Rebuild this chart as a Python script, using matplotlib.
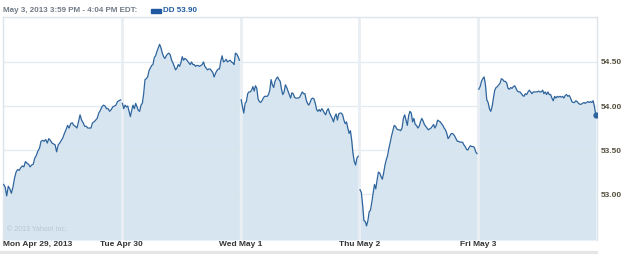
import matplotlib
matplotlib.use("Agg")
import matplotlib.pyplot as plt
import numpy as np

# DD intraday prices, one list per trading day
mon = [53.11, 53.08, 52.98, 53.09, 53.06, 53.01, 53.08, 53.18, 53.25, 53.28, 53.27, 53.30,
       53.32, 53.31, 53.37, 53.35, 53.34, 53.31, 53.33, 53.34, 53.41, 53.44, 53.49, 53.52,
       53.60, 53.61, 53.60, 53.62, 53.58, 53.63, 53.61, 53.58, 53.57, 53.56, 53.48, 53.56,
       53.58, 53.61, 53.64, 53.69, 53.73, 53.78, 53.75, 53.80, 53.81, 53.78, 53.77, 53.75,
       53.82, 53.90, 53.84, 53.81, 53.77, 53.77, 53.75, 53.75, 53.75, 53.81, 53.82, 53.84,
       53.86, 53.92, 53.95, 53.99, 54.01, 54.00, 53.97, 53.97, 53.94, 53.96, 53.99, 54.00,
       54.01, 54.05, 54.06, 54.07]
tue = [54.03, 53.97, 54.01, 53.99, 54.00, 53.94, 53.88, 53.95, 54.01, 53.97, 54.03, 53.99,
       53.95, 53.94, 54.01, 54.03, 54.14, 54.30, 54.31, 54.33, 54.40, 54.43, 54.46, 54.47,
       54.55, 54.57, 54.62, 54.66, 54.70, 54.66, 54.60, 54.56, 54.54, 54.57, 54.59, 54.60,
       54.58, 54.52, 54.49, 54.45, 54.41, 54.43, 54.47, 54.45, 54.49, 54.56, 54.52, 54.54,
       54.53, 54.51, 54.49, 54.47, 54.50, 54.47, 54.47, 54.45, 54.46, 54.46, 54.45, 54.46,
       54.47, 54.50, 54.45, 54.43, 54.41, 54.42, 54.42, 54.40, 54.38, 54.33, 54.37, 54.40,
       54.42, 54.42, 54.51, 54.57, 54.50, 54.51, 54.53, 54.50, 54.51, 54.52, 54.50, 54.49,
       54.47, 54.60, 54.59, 54.56, 54.52]
wed = [54.07, 53.99, 53.92, 54.03, 54.05, 54.14, 54.16, 54.16, 54.18, 54.22, 54.17, 54.23,
       54.20, 54.08, 54.05, 54.04, 54.06, 54.09, 54.11, 54.11, 54.11, 54.13, 54.18, 54.30,
       54.24, 54.21, 54.28, 54.31, 54.33, 54.30, 54.28, 54.19, 54.13, 54.16, 54.24, 54.21,
       54.17, 54.13, 54.09, 54.15, 54.14, 54.10, 54.09, 54.09, 54.09, 54.10, 54.13, 54.16,
       54.14, 54.14, 54.07, 54.03, 54.01, 54.04, 54.08, 54.09, 54.08, 54.03, 53.96, 53.94,
       53.96, 53.94, 53.97, 53.95, 53.92, 53.90, 53.95, 53.97, 53.92, 53.89, 53.86, 53.82,
       53.88, 53.91, 53.84, 53.91, 53.92, 53.92, 53.90, 53.84, 53.80, 53.82, 53.75, 53.69,
       53.72, 53.61, 53.46, 53.37, 53.33, 53.41, 53.43]
thu = [53.05, 53.02, 52.88, 52.70, 52.69, 52.64, 52.70, 52.80, 52.82, 52.91, 53.01, 53.11,
       53.06, 53.16, 53.25, 53.24, 53.20, 53.17, 53.24, 53.33, 53.39, 53.44, 53.52, 53.59,
       53.66, 53.72, 53.78, 53.77, 53.74, 53.73, 53.73, 53.72, 53.75, 53.86, 53.90, 53.84,
       53.78, 53.89, 53.94, 53.92, 53.82, 53.86, 53.79, 53.78, 53.75, 53.77, 53.82, 53.86,
       53.83, 53.79, 53.77, 53.75, 53.73, 53.74, 53.75, 53.77, 53.79, 53.75, 53.78, 53.84,
       53.83, 53.82, 53.80, 53.78, 53.75, 53.73, 53.69, 53.63, 53.65, 53.68, 53.69, 53.68,
       53.66, 53.63, 53.60, 53.60, 53.59, 53.59, 53.59, 53.56, 53.54, 53.51, 53.50, 53.53,
       53.55, 53.54, 53.54, 53.53, 53.48, 53.46]
fri = [54.19, 54.22, 54.28, 54.31, 54.33, 54.24, 54.07, 54.04, 53.97, 53.94, 53.99, 54.09,
       54.18, 54.21, 54.22, 54.24, 54.26, 54.31, 54.30, 54.28, 54.28, 54.26, 54.20, 54.19,
       54.21, 54.20, 54.22, 54.23, 54.20, 54.17, 54.16, 54.16, 54.14, 54.12, 54.11, 54.14,
       54.13, 54.16, 54.18, 54.16, 54.14, 54.16, 54.16, 54.16, 54.16, 54.17, 54.16, 54.16,
       54.18, 54.14, 54.16, 54.13, 54.16, 54.13, 54.13, 54.09, 54.06, 54.11, 54.09, 54.11,
       54.10, 54.11, 54.10, 54.11, 54.09, 54.12, 54.13, 54.11, 54.12, 54.09, 54.05, 54.04,
       54.04, 54.06, 54.05, 54.03, 54.02, 54.02, 54.03, 54.04, 54.03, 54.04, 54.05, 54.04,
       54.05, 54.04, 54.06, 53.99, 53.90]
days = [mon, tue, wed, thu, fri]
day_labels = ["Mon Apr 29, 2013", "Tue Apr 30", "Wed May 1", "Thu May 2", "Fri May 3"]
yticks = [53.00, 53.50, 54.00, 54.50]
header = "May 3, 2013 3:59 PM - 4:04 PM EDT:"
last_label = "DD 53.90"

line_col = "#2e649c"
fill_col = "#d6e5f0"
grid_col = "#dde6ee"
font = "Liberation Sans"

fig = plt.figure(figsize=(6.25, 2.54), dpi=100)
ax = fig.add_axes([3/625, 14/254, 594/625, 223/254])
ax.set_xlim(0, 5)
ax.set_ylim(52.48, 55.01)

for d, vals in enumerate(days):
    x = d + np.linspace(0.005, 0.99, len(vals))
    ax.fill_between(x, vals, 52.48, color=fill_col, lw=0, zorder=1)
    ax.plot(x, vals, color=line_col, lw=0.9, zorder=3)
ax.plot([x[-1]], [fri[-1]], 'o', color=line_col, ms=3.5, zorder=4)

for y in yticks:
    ax.axhline(y, color=grid_col, lw=1.0, alpha=0.8, zorder=2)
for d in range(1, 5):
    ax.axvline(d, color="#e8eef3", lw=2.0, zorder=2)

ax.set_xticks([])
ax.yaxis.tick_right()
ax.set_yticks(yticks)
ax.set_yticklabels(["%.2f" % v for v in yticks], fontsize=6, fontweight="bold",
                   color="#55503f", family=font)
ax.tick_params(axis="y", length=0, pad=3)
for s in ax.spines.values():
    s.set_color("#dde4ea")
    s.set_linewidth(1.0)
ax.spines["bottom"].set_visible(False)

for d, lab in enumerate(day_labels):
    fx = (3 + d * 594 / 5) / 625
    fig.text(fx, 9/254, lab, ha="left" if d == 0 else "center", va="center",
             fontsize=6, fontweight="bold", color="#333333", family=font)

ax.text(0.006, 0.03, "\u00a9 2013 Yahoo! Inc.", transform=ax.transAxes, fontsize=5,
        color="#b8c6d3", va="bottom", family=font)

fig.text(3/625, 1 - 11/254, header, fontsize=5.8, fontweight="bold", color="#707a86",
         va="center", family=font)
fig.patches.append(plt.Rectangle((151/625, 1 - 13/254), 10/625, 4/254, transform=fig.transFigure,
                                 color="#1f5aa0", figure=fig))
fig.text(163/625, 1 - 11/254, last_label, fontsize=5.8, fontweight="bold", color="#1f5aa0",
         va="center", family=font)
fig.patches.append(plt.Rectangle((0, 0), 597/625, 3/254, transform=fig.transFigure,
                                 color="#e6e6e6", figure=fig))

fig.savefig("out.png", dpi=100)
